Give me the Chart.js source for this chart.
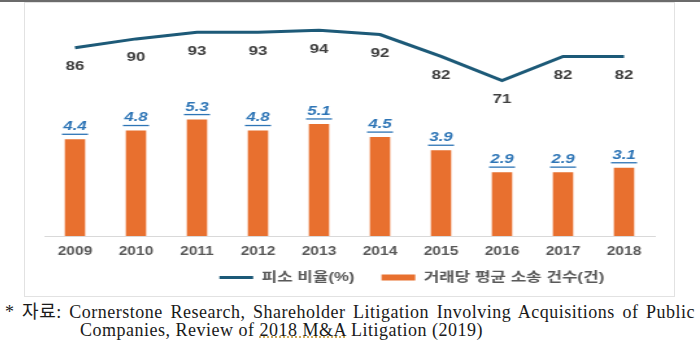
<!DOCTYPE html>
<html>
<head>
<meta charset="utf-8">
<script src="https://cdn.jsdelivr.net/npm/chart.js@4"></script>
<style>
  body { margin: 0; background: #fff; width: 700px; height: 342px; overflow: hidden; position: relative; }
  #topRule { position: absolute; left: 0; top: 0; width: 700px; height: 2px; background: #6b6b6b; }
  #frame { position: absolute; left: 24px; top: 2px; width: 651px; height: 295px; border: 1px solid #e2e2e2; box-sizing: border-box; }
  #stretch { width: 500px; height: 293px; transform: scaleX(1.298); transform-origin: left top; }
  #note {
    position: absolute; left: 5px; top: 303px; width: 690px;
    font-family: "Liberation Serif", "Noto Sans CJK KR", serif; font-size: 18px; line-height: 18px;
    letter-spacing: 0.5px; color: #1a1a1a;
    text-align: justify; padding-left: 75px; text-indent: -75px; box-sizing: border-box;
  }
  #note .sq { text-decoration: underline dotted #c9a24a; }
</style>
</head>
<body>
<div id="topRule"></div>
<div id="frame"><div id="stretch"><canvas id="chart"></canvas></div></div>
<div id="note">* 자료: Cornerstone Research, Shareholder Litigation Involving Acquisitions of Public Companies, Review of <span class="sq">2018 M&amp;A</span> Litigation (2019)</div>

<script>
// values
const years = ['2009', '2010', '2011', '2012', '2013', '2014', '2015', '2016', '2017', '2018'];
const suedRate = [86, 90, 93, 93, 94, 92, 82, 71, 82, 82];          // 피소 비율(%)
const suitsPerDeal = [4.4, 4.8, 5.3, 4.8, 5.1, 4.5, 3.9, 2.9, 2.9, 3.1]; // 거래당 평균 소송 건수(건)

const FONT = '"Liberation Sans", "Noto Sans CJK KR", sans-serif';

// numbers under the line points and above the bars
const valueLabels = {
    id: 'valueLabels',
    afterDatasetsDraw(chart) {
        const ctx = chart.ctx;
        ctx.save();
        ctx.textAlign = 'center';
        ctx.textBaseline = 'middle';

        ctx.font = 'bold 13px ' + FONT;
        ctx.fillStyle = '#404040';
        chart.getDatasetMeta(0).data.forEach((pt, i) => {
            ctx.fillText(String(suedRate[i]), pt.x, pt.y + 19);
        });

        ctx.font = 'italic bold 13px ' + FONT;
        ctx.fillStyle = '#2e75b6';
        chart.getDatasetMeta(1).data.forEach((bar, i) => {
            const txt = suitsPerDeal[i].toFixed(1);
            const y = bar.y - 13;
            ctx.fillText(txt, bar.x, y);
            const w = ctx.measureText(txt).width;
            ctx.fillRect(bar.x - w / 2 - 1, y + 7, w + 2, 1.3);
        });
        ctx.restore();
    }
};

// the legend in the reference sits right of centre and close under the ticks
const legendShift = {
    id: 'legendShift',
    afterUpdate(chart) {
        const lg = chart.legend;
        if (!lg) return;
        lg.left += 48;
        lg.right += 48;
        lg.top -= 16.2;   // bottom stays put so the legend is not clipped
        lg.adjustHitBoxes();
    }
};

new Chart(document.getElementById('chart'), {
    data: {
        labels: years,
        datasets: [
            {
                type: 'line',
                label: '피소 비율(%)',
                data: suedRate,
                yAxisID: 'y',
                borderColor: '#1d5a78',
                backgroundColor: '#1d5a78',
                borderWidth: 3,
                pointRadius: 0,
                tension: 0
            },
            {
                type: 'bar',
                label: '거래당 평균 소송 건수(건)',
                data: suitsPerDeal,
                yAxisID: 'y1',
                backgroundColor: '#e8702f',
                borderWidth: 0,
                barThickness: 15
            }
        ]
    },
    options: {
        responsive: true,
        maintainAspectRatio: false,
        animation: false,
        layout: { padding: { left: 15, right: 15, top: 14, bottom: 0 } },
        scales: {
            x: {
                grid: { display: false, drawTicks: false },
                border: { color: '#d9d9d9', width: 1 },
                ticks: { color: '#595959', padding: 8, font: { family: FONT, size: 12, weight: 'bold' } }
            },
            y: { display: false, min: 0, max: 100 },
            y1: { display: false, min: 0, max: 10 }
        },
        plugins: {
            tooltip: { enabled: false },
            legend: {
                position: 'bottom',
                maxHeight: 29.6,
                labels: {
                    color: '#595959',
                    font: { family: FONT, size: 13, weight: 'bold' },
                    usePointStyle: true,
                    pointStyleWidth: 26,
                    boxHeight: 6,
                    padding: 20.7,
                    generateLabels(chart) {
                        const items = Chart.defaults.plugins.legend.labels.generateLabels(chart);
                        items[0].pointStyle = 'line';
                        items[1].pointStyle = 'rect';
                        items[1].lineWidth = 0;
                        return items;
                    }
                }
            }
        }
    },
    plugins: [valueLabels, legendShift]
});
</script>
</body>
</html>
